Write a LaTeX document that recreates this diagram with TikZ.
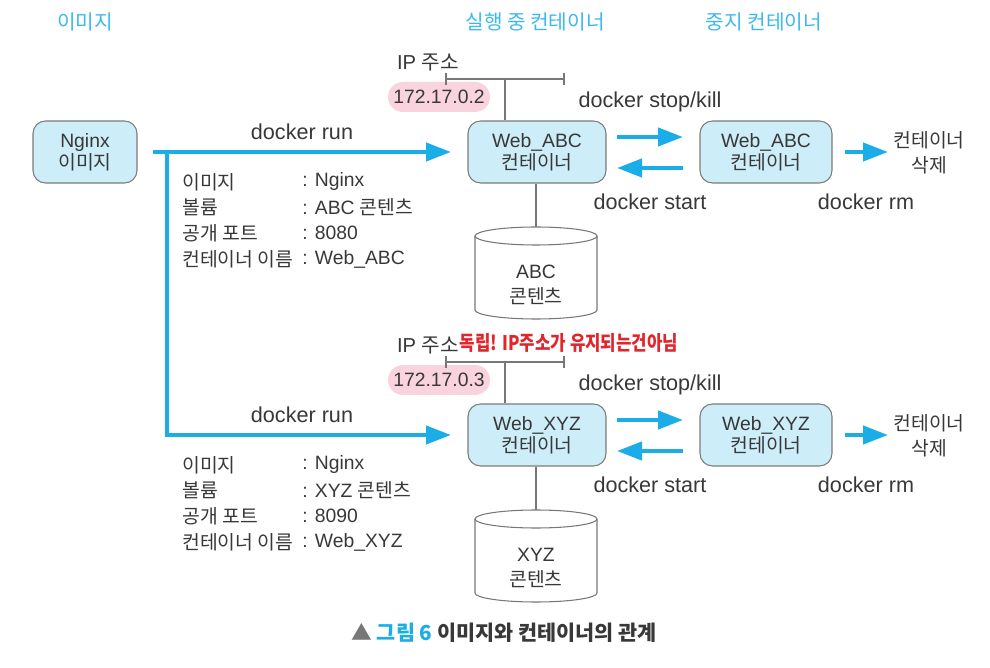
\documentclass[tikz,border=0pt]{standalone}
\usepackage{fontspec}
\setmainfont{Liberation Sans}
\newfontfamily\kr{Noto Sans CJK KR}
\usetikzlibrary{arrows.meta,calc}
\definecolor{cyanc}{HTML}{1AADE8}
\definecolor{titlec}{HTML}{3CB9EC}
\definecolor{boxfill}{HTML}{CDEDF9}
\definecolor{boxborder}{HTML}{7A7A7A}
\definecolor{graylc}{HTML}{777777}
\definecolor{txt}{HTML}{383838}
\definecolor{pinkc}{HTML}{F9D4DE}
\definecolor{redc}{HTML}{E0262B}
\tikzset{
  x=0.02cm, y=-0.02cm,
  box/.style={draw=boxborder, fill=boxfill, rounded corners=0.25cm, minimum width=2.76cm, minimum height=1.24cm, inner sep=0pt, line width=0.6pt, align=center, text=txt, font=\fontsize{11}{14.6}\selectfont},
  lbl/.style={text=txt, inner sep=0pt, font=\fontsize{12.3}{14}\selectfont},
  info/.style={text=txt, inner sep=0pt, anchor=west, font=\fontsize{11}{14}\selectfont},
  ttl/.style={text=titlec, inner sep=0pt, font=\kr\fontsize{11.5}{14}\selectfont},
  pill/.style={fill=pinkc, rounded corners=0.3cm, minimum width=2.04cm, minimum height=0.6cm, inner sep=0pt, text=txt, font=\fontsize{11}{13}\selectfont},
  carrow/.style={draw=cyanc, line width=2.4pt, -{Triangle[length=0.5cm,width=0.36cm]}},
  gline/.style={draw=graylc, line width=1.1pt},
  cyl/.style={draw=graylc, line width=0.6pt, fill=white},
}
\begin{document}
\begin{tikzpicture}
\useasboundingbox (0,0) rectangle (990,668);
% titles
\node[ttl] (t1) at (85,22) {이미지};
\node[ttl] (t2) at (535,22) {실행 중 컨테이너};
\node[ttl] (t3) at (764,22) {중지 컨테이너};
% image box
\node[box, minimum width=2.08cm] (img) at (85,152) {\raisebox{-2pt}{Nginx}\\{\kr 이미지}};

\foreach \dy/\nm/\ip/\vol/\port in {0/ABC/2/ABC/8080, 283/XYZ/3/XYZ/8090}{
  \begin{scope}[yshift=-\dy*0.02cm]
  \node[box] (run\nm) at (537,152) {\raisebox{-2pt}{Web\_\nm}\\{\kr 컨테이너}};
  \node[box, minimum width=2.64cm] (stop\nm) at (766,152) {\raisebox{-2pt}{Web\_\nm}\\{\kr 컨테이너}};
  \node[lbl, font=\kr\fontsize{11}{14.2}\selectfont, align=center] (del\nm) at (929,153) {컨테이너\\삭제};
  % IP
  \node[lbl, font=\fontsize{11.5}{14}\selectfont] (iplbl\nm) at (428,63) {IP {\kr 주소}};
  \node[pill] (ip\nm) at (439,97) {172.17.0.\ip};
  \coordinate (tl\nm) at (446,79);
  \coordinate (tr\nm) at (564,79);
  \coordinate (tm\nm) at (505,79);
  \draw[gline] (tl\nm) -- (tr\nm);
  \draw[gline] ($(tl\nm)+(0,-6)$) -- ($(tl\nm)+(0,6)$);
  \draw[gline] ($(tr\nm)+(0,-6)$) -- ($(tr\nm)+(0,6)$);
  \draw[gline] (tm\nm) -- (tm\nm |- run\nm.north);
  % labels
  \node[lbl] (stopkill\nm) at (650,102) {docker stop/kill};
  \node[lbl] (start\nm) at (650,202) {docker start};
  \node[lbl] (rm\nm) at (866,202) {docker rm};
  \node[lbl] (runl\nm) at (302,132) {docker run};
  % arrows
  \coordinate (ar1\nm) at (617,137);
  \coordinate (ar2\nm) at (683,137);
  \coordinate (al1\nm) at (683,168);
  \coordinate (al2\nm) at (617,168);
  \draw[carrow] (ar1\nm) -- (ar2\nm);
  \draw[carrow] (al1\nm) -- (al2\nm);
  \coordinate (ad1\nm) at (845,152);
  \coordinate (ad2\nm) at (888,152);
  \draw[carrow] (ad1\nm) -- (ad2\nm);
  % cylinder
  \coordinate (cyltop\nm) at (536,227);
  \draw[gline, line width=0.8pt] (run\nm.south -| cyltop\nm) -- (cyltop\nm);
  \draw[cyl] (475,236) -- (475,310) arc[start angle=180,end angle=360,x radius=61,y radius=-9] -- (597,236);
  \draw[cyl] (536,236) ellipse [x radius=61*0.02cm, y radius=9*0.02cm];
  \node[lbl, align=center, font=\fontsize{11}{14.2}\selectfont] (cyltext\nm) at (536,285) {\vol\\{\kr 콘텐츠}};
  % info
  \node[info, font=\kr\fontsize{11}{14}\selectfont] (i1\nm) at (182,182) {이미지};
  \node[info, font=\kr\fontsize{11}{14}\selectfont] (i2\nm) at (182,207) {볼륨};
  \node[info, font=\kr\fontsize{11}{14}\selectfont] (i3\nm) at (182,233) {공개 포트};
  \node[info, font=\kr\fontsize{11}{14}\selectfont] (i4\nm) at (182,259) {컨테이너 이름};
  \node[info] (v1\nm) at (302,182) {: Nginx};
  \node[info] (v2\nm) at (302,207) {: \vol{} {\kr 콘텐츠}};
  \node[info] (v3\nm) at (302,233) {: \port};
  \node[info] (v4\nm) at (302,259) {: Web\_\nm};
  \end{scope}
}
% run arrows from image
\coordinate (rs) at (153,152);
\coordinate (re) at (451,152);
\coordinate (bs) at (167,152);
\coordinate (be) at (451,435);
\draw[carrow] (rs) -- (re);
\draw[carrow] (bs) |- (be);
% handwritten note
\node[text=redc, inner sep=0pt, xscale=0.83, font=\kr\bfseries\fontsize{11.5}{13}\selectfont] (note) at (569,343) {독립! IP주소가 유지되는건아님};
% caption
\node[inner sep=0pt, font=\kr\bfseries\fontsize{11.8}{14}\selectfont] (cap) at (504,633) {\textcolor{graylc}{▲} \textcolor{cyanc}{그림 6} \textcolor{txt}{이미지와 컨테이너의 관계}};
\end{tikzpicture}
\end{document}
